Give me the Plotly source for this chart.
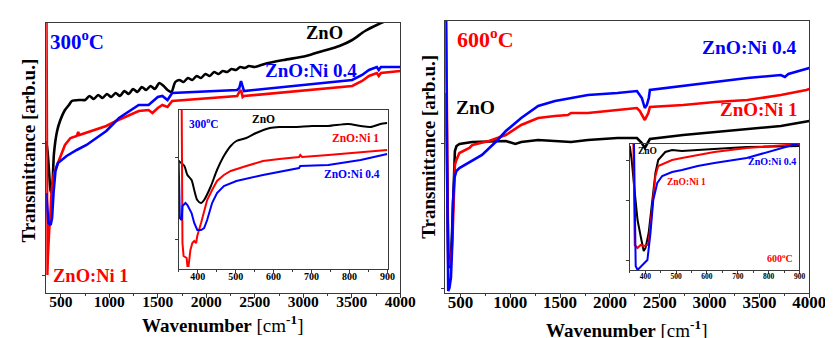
import plotly.graph_objects as go

# ---------------- DATA ----------------
# Left main panel (300 oC)
L_zno_x = [350, 365, 380, 395, 405, 415, 430, 462, 492, 543, 584, 614, 700,
           750, 795, 840, 885, 930, 975, 1020, 1065, 1110, 1155, 1200, 1245, 1290, 1335, 1380,
           1425, 1470, 1515, 1560, 1600, 1640, 1680, 1720, 1765, 1810, 1855, 1900, 1945, 1990,
           2035, 2080, 2125, 2170, 2215, 2260, 2305, 2350, 2395, 2440, 2500, 2600, 2800, 3027,
           3200, 3372, 3504, 3636, 3778, 3900, 4000]
L_zno_y = [152, 140, 120, 102, 100, 110, 140, 162, 172, 183, 188, 192, 193,
           193, 197, 194, 198, 195, 199, 196, 200, 197, 202, 199, 204, 201, 206, 203,
           207, 204, 210, 207, 203, 201, 211, 213, 211, 215, 213, 217, 215, 219,
           217, 221, 219, 222, 221, 224, 223, 226, 225, 227, 226, 229, 233, 237,
           242, 247, 253, 262, 269, 274, 278]

L_ni1_x = [352, 356, 358, 361, 366, 372, 380, 392, 405, 430, 462, 543, 600, 664, 680, 690,
           969, 1070, 1303, 1405, 1445, 1500, 1547, 1600, 1648, 2318, 2340, 2358, 2375, 2389,
           3504, 3606, 3677, 3758, 3778, 3800, 4000]
L_ni1_y = [300, 100, 40, 18, 35, 55, 62, 78, 102, 120, 128, 148, 155, 157, 161, 158,
           167, 172, 182, 183, 180, 185, 188, 186, 192, 197, 201, 203, 196, 197,
           207, 212, 217, 220, 217, 220, 222]

L_ni04_x = [350, 360, 372, 395, 410, 425, 445, 470, 560, 664, 765, 969, 1100, 1303, 1405,
            1500, 1547, 1600, 1648, 2318, 2340, 2358, 2370, 2389, 3504, 3606, 3677, 3758,
            3778, 3800, 4000]
L_ni04_y = [100, 80, 70, 68, 75, 100, 122, 130, 137, 143, 148, 162, 175, 188, 188,
            196, 197, 193, 200, 203, 205, 212, 207, 202, 213, 218, 223, 226,
            223, 226, 226]

# Left inset (300 oC, 350-900 cm-1)
LI_zno_x = [350, 365, 373, 384, 391, 399, 409, 417, 435, 451, 469, 487, 502, 528, 554,
            590, 615, 657, 701, 744, 796, 829, 855, 881, 899]
LI_zno_y = [108, 103, 94, 89, 79, 69, 66, 69, 83, 99, 113, 123, 128, 131, 136,
            141, 142, 142, 143, 143, 145, 143, 142, 145, 146]

LI_ni1_x = [356, 358, 360, 363, 371, 373, 376, 381, 386, 391, 396, 399, 409, 417, 425,
            438, 451, 469, 487, 528, 572, 615, 667, 670, 675, 744, 829, 899]
LI_ni1_y = [220, 160, 26, 13, 11, 3, 3, 19, 26, 28, 26, 33, 46, 59, 69,
            79, 88, 94, 98, 103, 108, 110, 112, 114, 112, 114, 117, 119]

LI_ni04_x = [350, 353, 358, 360, 368, 373, 384, 391, 399, 409, 417, 425, 438, 451, 469,
             502, 572, 667, 670, 744, 829, 899]
LI_ni04_y = [109, 51, 49, 63, 66, 64, 56, 46, 39, 39, 41, 49, 66, 76, 83,
             88, 94, 101, 103, 104, 109, 115]

# Right main panel (600 oC)
R_zno_x = [352, 360, 370, 380, 392, 405, 420, 435, 445, 461, 491, 618, 956, 1051, 1110,
           1280, 1449, 1610, 1779, 2075, 2271, 2320, 2350, 2380, 2401, 2735, 3055, 3379,
           3714, 4000]
R_zno_y = [200, 150, 60, 32, 25, 35, 70, 120, 142, 147, 149, 151, 152, 149, 151,
           153, 152, 151, 153, 155, 155, 150, 145, 150, 154, 158, 161, 164,
           167, 172]

R_ni1_x = [355, 365, 372, 378, 390, 405, 420, 435, 445, 460, 490, 590, 620, 786, 956,
           1110, 1280, 1449, 1578, 1610, 1779, 2075, 2271, 2300, 2330, 2350, 2385, 2401,
           2735, 3055, 3379, 3714, 3970, 4000]
R_ni1_y = [300, 180, 60, 30, 28, 32, 52, 110, 128, 133, 140, 145, 148, 152, 158,
           168, 175, 177, 178, 180, 180, 183, 185, 182, 177, 173, 180, 186,
           188, 191, 193, 198, 203, 204]

R_ni04_x = [352, 362, 370, 378, 390, 405, 415, 425, 440, 460, 490, 618, 717, 864, 956,
            1110, 1280, 1449, 1610, 1779, 2075, 2271, 2320, 2350, 2370, 2390, 2401, 2735,
            3055, 3379, 3714, 3755, 3790, 4000]
R_ni04_y = [300, 150, 30, 2, 5, 15, 40, 90, 115, 122, 125, 132, 138, 152, 162,
            175, 187, 192, 195, 198, 200, 202, 195, 185, 188, 195, 203, 207,
            211, 215, 218, 216, 219, 225]

# Right inset (600 oC, 350-900 cm-1)
RI_zno_x = [350, 356, 363, 375, 385, 395, 401, 411, 423, 433, 442, 465, 487, 519, 570,
            624, 729, 901]
RI_zno_y = [124, 110, 87, 50, 34, 19, 22, 37, 70, 97, 110, 118, 120, 119, 120,
            121, 123, 124]

RI_ni1_x = [360, 366, 375, 385, 395, 407, 411, 423, 433, 442, 465, 487, 519, 570, 624,
            729, 901]
RI_ni1_y = [160, 25, 22, 25, 24, 25, 27, 60, 94, 104, 107, 110, 112, 115, 118,
            122, 126]

RI_ni04_x = [362, 369, 375, 391, 407, 417, 426, 439, 455, 487, 519, 570, 624, 729, 901]
RI_ni04_y = [160, 4, 0, 5, 10, 37, 70, 87, 94, 98, 100, 104, 107, 112, 127]

main_ticks = [500, 1000, 1500, 2000, 2500, 3000, 3500, 4000]
inset_ticks = [400, 500, 600, 700, 800, 900]

# ---------------- FIGURE ----------------
W, H = 833, 338
BLACK, RED, BLUE = "#000000", "#ff0000", "#0000ff"
FONT = "Liberation Serif"


def dom_x(a, b):
    return [a / W, b / W]


def dom_y(top, bottom):
    return [1 - bottom / H, 1 - top / H]


fig = go.Figure()


def add(x, y, color, xa, ya, width, shape="linear"):
    fig.add_trace(go.Scatter(x=x, y=y, mode="lines",
                             line=dict(color=color, width=width, shape=shape, smoothing=0.7),
                             xaxis=xa, yaxis=ya, showlegend=False, hoverinfo="skip"))


# main left
add(L_zno_x, L_zno_y, BLACK, "x", "y", 2.6, "spline")
add(L_ni1_x, L_ni1_y, RED, "x", "y", 2.6)
add(L_ni04_x, L_ni04_y, BLUE, "x", "y", 2.6)
# main right
add(R_zno_x, R_zno_y, BLACK, "x2", "y2", 2.6)
add(R_ni1_x, R_ni1_y, RED, "x2", "y2", 2.6)
add(R_ni04_x, R_ni04_y, BLUE, "x2", "y2", 2.6)
# inset left
add(LI_zno_x, LI_zno_y, BLACK, "x3", "y3", 2.0, "spline")
add(LI_ni1_x, LI_ni1_y, RED, "x3", "y3", 2.0)
add(LI_ni04_x, LI_ni04_y, BLUE, "x3", "y3", 2.0)
# inset right
add(RI_zno_x, RI_zno_y, BLACK, "x4", "y4", 2.0)
add(RI_ni1_x, RI_ni1_y, RED, "x4", "y4", 2.0)
add(RI_ni04_x, RI_ni04_y, BLUE, "x4", "y4", 2.0)

FRAME = "#3a3a3a"


def xax(domain, anchor, rng, tickvals, fsize, minor_dtick, ticklen, minorlen, standoff):
    return dict(domain=domain, anchor=anchor, range=rng, tickmode="array", tickvals=tickvals,
                ticktext=[f"<b>{v}</b>" for v in tickvals],
                tickfont=dict(family=FONT, size=fsize, color="#000"),
                ticks="outside", ticklen=ticklen, tickwidth=1, tickcolor=FRAME,
                minor=dict(tickmode="linear", tick0=0, dtick=minor_dtick, ticks="outside",
                           ticklen=minorlen, tickwidth=1, tickcolor=FRAME),
                showline=True, linecolor=FRAME, linewidth=1, mirror=True,
                showgrid=False, zeroline=False, ticklabelstandoff=standoff)


def yax(domain, anchor, rng, tickvals):
    return dict(domain=domain, anchor=anchor, range=rng, tickmode="array", tickvals=tickvals,
                showticklabels=False, ticks="outside", ticklen=3, tickwidth=1, tickcolor=FRAME,
                showline=True, linecolor=FRAME, linewidth=1, mirror=True,
                showgrid=False, zeroline=False)


fig.update_layout(
    width=W, height=H, margin=dict(l=0, r=0, t=0, b=0),
    paper_bgcolor="white", plot_bgcolor="rgba(0,0,0,0)",
    xaxis=xax(dom_x(39, 400), "y", [350, 4000], main_ticks, 15.5, 250, 4, 2, -10),
    yaxis=yax(dom_y(15, 285), "x", [0, 270], [18, 150]),
    xaxis2=xax(dom_x(446, 817), "y2", [350, 4000], main_ticks, 17, 250, 4, 2, -10),
    yaxis2=yax(dom_y(13, 285), "x2", [0, 272], [5, 150]),
    xaxis3=xax(dom_x(174, 387), "y3", [350, 900], inset_ticks, 10, 50, 3, 2, -5),
    yaxis3=yax(dom_y(102, 261), "x3", [0, 159], [30, 112]),
    xaxis4=xax(dom_x(634, 807), "y4", [350, 900], inset_ticks, 7.5, 50, 3, 2, -4),
    yaxis4=yax(dom_y(136, 262), "x4", [0, 126], [10, 70, 110]),
)


def label(text, px, py, size, color, angle=0):
    fig.add_annotation(text=text, x=px / W, y=1 - py / H, xref="paper", yref="paper",
                       showarrow=False, xanchor="center", yanchor="middle", textangle=angle,
                       font=dict(family=FONT, size=size, color=color))


# axis titles
label("<b>Wavenumber</b> [cm<sup><b>-1</b></sup>]", 219, 316, 19, BLACK)
label("<b>Wavenumber</b> [cm<sup><b>-1</b></sup>]", 631, 321, 19, BLACK)
label("<b>Transmittance [arb.u.]</b>", 20, 143, 19, BLACK, -90)
label("<b>Transmittance [arb.u.]</b>", 428, 139, 19, BLACK, -90)

# main left labels
label("<b>300<sup>o</sup>C</b>", 70, 32, 21, BLUE)
label("<b>ZnO</b>", 323, 25, 18.5, BLACK)
label("<b>ZnO:Ni 0.4</b>", 309, 62, 19, BLUE)
label("<b>ZnO:Ni 1</b>", 85, 268, 18.5, RED)
# main right labels
label("<b>600<sup>o</sup>C</b>", 487, 30, 22, RED)
label("<b>ZnO:Ni 0.4</b>", 756, 39, 19.5, BLUE)
label("<b>ZnO</b>", 477, 100, 19.5, BLACK)
label("<b>ZnO:Ni 1</b>", 766, 101, 19, RED)
# inset left labels
label("<b>300<sup>o</sup>C</b>", 200, 115, 11.5, BLUE)
label("<b>ZnO</b>", 260, 111, 11.5, BLACK)
label("<b>ZnO:Ni 1</b>", 354, 130, 11.5, RED)
label("<b>ZnO:Ni 0.4</b>", 351, 166, 11.5, BLUE)
# inset right labels
label("<b>ZnO</b>", 652, 143, 9.5, BLACK)
label("<b>ZnO:Ni 0.4</b>", 779, 153, 10, BLUE)
label("<b>ZnO:Ni 1</b>", 692, 174, 9.5, RED)
label("<b>600<sup>o</sup>C</b>", 787, 250, 10, RED)

fig.write_html("out.html")
